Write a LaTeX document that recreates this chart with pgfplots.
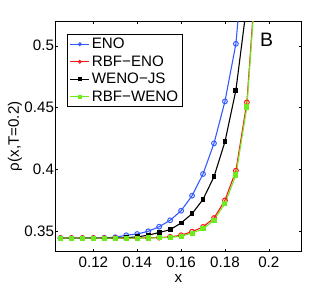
\documentclass[border=0pt]{standalone}
\usepackage{pgfplots}
\pgfplotsset{compat=1.18}
\usepackage{fontspec}
\setmainfont{Liberation Sans}
\definecolor{cblue}{RGB}{50,90,255}
\definecolor{cred}{RGB}{255,20,20}
\definecolor{cgreen}{RGB}{110,235,30}
\begin{document}
\begin{tikzpicture}
\useasboundingbox (-55bp,-35.3bp) rectangle (277bp,251.7bp);
\begin{axis}[
  scale only axis,
  width=246.7bp, height=230.7bp,
  xmin=0.1025, xmax=0.215, ymin=0.3335, ymax=0.52,
  xtick={0.12,0.14,0.16,0.18,0.2},
  ytick={0.35,0.4,0.45,0.5},
  xticklabels={0.12,0.14,0.16,0.18,0.2},
  yticklabels={0.35,0.4,0.45,0.5},
  tick align=inside, tick pos=both,
  major tick length=3bp,
  tick style={black, line width=0.4pt},
  axis line style={black, line width=0.6pt},
  every tick label/.style={font=\fontsize{15.2}{17}\selectfont},
  xticklabel style={yshift=-2pt},
  yticklabel style={xshift=2.5pt},
  xlabel={x}, ylabel={ρ(x,T=0.2)},
  label style={font=\fontsize{15.2}{17}\selectfont},
  xlabel style={at={(axis description cs:0.5,-0.118)}, anchor=center},
  ylabel style={at={(axis description cs:-0.162,0.5)}, anchor=center},
  clip=true,
  legend style={at={(axis description cs:0.05,0.942)}, anchor=north west,
    font=\fontsize{15.2}{17}\selectfont, draw=black, line width=0.6pt,
    row sep=1.5pt, inner xsep=2pt, inner ysep=1.5pt},
  legend cell align=left,
  legend image code/.code={
    \draw[#1, line width=1pt] (0cm,0cm) -- (0.68cm,0cm);
    \draw[#1, mark repeat=1, mark size=1.5pt] plot coordinates {(0.34cm,0cm)};
  },
]
\addplot[cblue, line width=1.1pt, mark=o, mark size=2.4pt, mark options={line width=1pt}] coordinates {
(0.105,0.3445)(0.11,0.3445)(0.115,0.3445)(0.12,0.3446)(0.125,0.3447)(0.13,0.3452)
(0.135,0.3468)(0.14,0.3478)(0.145,0.3500)(0.15,0.3537)(0.155,0.3589)(0.16,0.3666)
(0.165,0.3788)(0.17,0.3963)(0.175,0.4211)(0.18,0.4550)(0.185,0.5016)(0.19,0.604)};
\addlegendentry{ENO}
\addplot[cred, line width=1.1pt, mark=o, mark size=2.4pt, mark options={line width=1pt}] coordinates {
(0.105,0.3445)(0.11,0.3445)(0.115,0.3445)(0.12,0.3445)(0.125,0.3445)(0.13,0.3445)
(0.135,0.3445)(0.14,0.3446)(0.145,0.3447)(0.15,0.3449)(0.155,0.3455)(0.16,0.3468)
(0.165,0.3497)(0.17,0.3535)(0.175,0.3607)(0.18,0.3750)(0.185,0.3990)(0.19,0.4542)(0.195,0.58)};
\addlegendentry{RBF\textminus ENO}
\addplot[black, line width=1.1pt, mark=square*, mark size=1.9pt] coordinates {
(0.105,0.3445)(0.11,0.3445)(0.115,0.3445)(0.12,0.3445)(0.125,0.3445)(0.13,0.3446)
(0.135,0.3448)(0.14,0.3455)(0.145,0.3468)(0.15,0.3490)(0.155,0.3513)(0.16,0.3567)
(0.165,0.3642)(0.17,0.3758)(0.175,0.3941)(0.18,0.4224)(0.185,0.4641)(0.19,0.534)};
\addlegendentry{WENO\textminus JS}
\addplot[cgreen, line width=1.1pt, mark=square*, mark size=2pt] coordinates {
(0.105,0.3445)(0.11,0.3445)(0.115,0.3445)(0.12,0.3445)(0.125,0.3445)(0.13,0.3445)
(0.135,0.3445)(0.14,0.3445)(0.145,0.3446)(0.15,0.3447)(0.155,0.3451)(0.16,0.3460)
(0.165,0.3485)(0.17,0.3520)(0.175,0.3590)(0.18,0.3725)(0.185,0.3955)(0.19,0.4505)(0.195,0.5745)};
\addlegendentry{RBF\textminus WENO}
\node[font=\fontsize{19.5}{21}\selectfont, anchor=center] at (rel axis cs:0.858,0.917) {B};
\end{axis}
\end{tikzpicture}
\end{document}
